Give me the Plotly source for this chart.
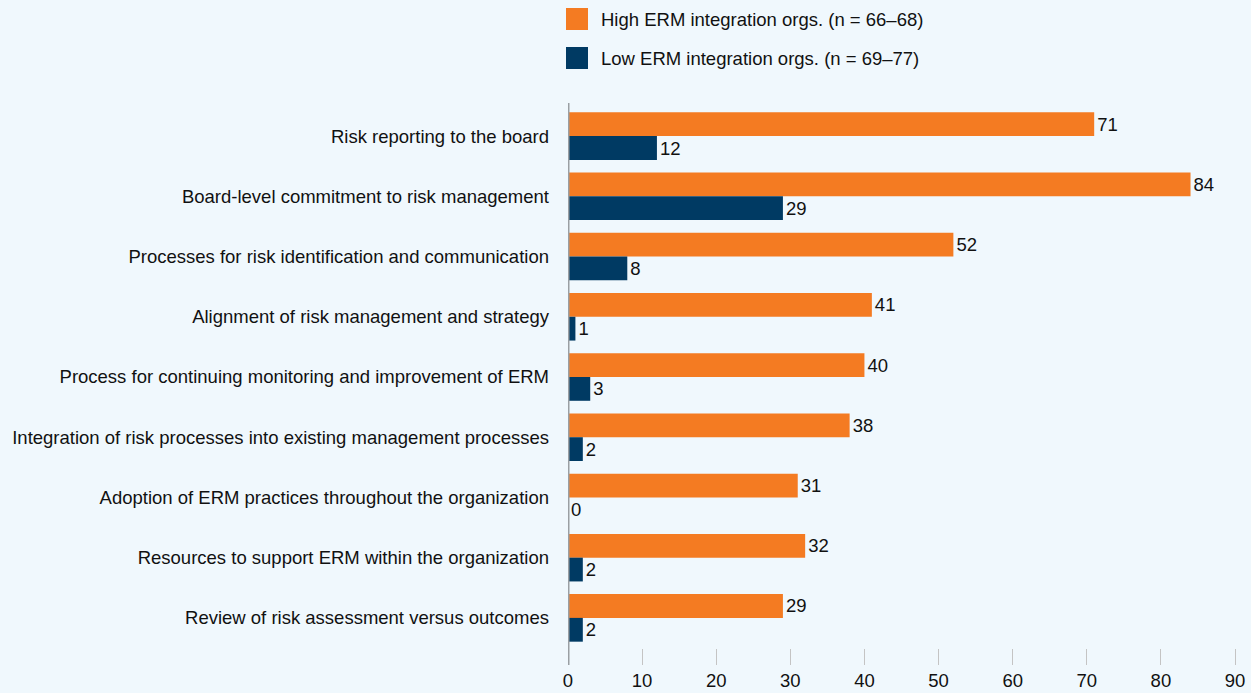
import plotly.graph_objects as go

categories = [
    "Risk reporting to the board",
    "Board-level commitment to risk management",
    "Processes for risk identification and communication",
    "Alignment of risk management and strategy",
    "Process for continuing monitoring and improvement of ERM",
    "Integration of risk processes into existing management processes",
    "Adoption of ERM practices throughout the organization",
    "Resources to support ERM within the organization",
    "Review of risk assessment versus outcomes",
]
high_erm = [71, 84, 52, 41, 40, 38, 31, 32, 29]
low_erm = [12, 29, 8, 1, 3, 2, 0, 2, 2]
series_names = [
    "High ERM integration orgs. (n = 66\u201368)",
    "Low ERM integration orgs. (n = 69\u201377)",
]
x_ticks = [0, 10, 20, 30, 40, 50, 60, 70, 80, 90]

ORANGE = "#f47b22"
NAVY = "#003a63"
BG = "#f0f8fd"
FONT = "Liberation Sans, Arial, sans-serif"
FS = 18.5

fig = go.Figure()
for name, vals, color in [(series_names[0], high_erm, ORANGE),
                          (series_names[1], low_erm, NAVY)]:
    fig.add_trace(go.Bar(
        y=categories,
        x=vals,
        orientation="h",
        name=name,
        marker=dict(color=color, line_width=0),
        text=[str(v) for v in vals],
        textposition="outside",
        textfont=dict(size=FS, color="#111111", family=FONT),
        cliponaxis=False,
        showlegend=False,
    ))

# legend drawn by hand so the swatches can be big squares
for i, (name, color) in enumerate(zip(series_names, [ORANGE, NAVY])):
    y_top = 8 + i * 39
    fig.add_shape(type="rect", xref="paper", yref="paper",
                  x0=-2 / 667, x1=20 / 667,
                  y0=(693 - 45 - y_top) / 542,
                  y1=(693 - 45 - y_top - 22) / 542,
                  fillcolor=color, line_width=0)
    fig.add_annotation(xref="paper", yref="paper",
                       x=31 / 667, y=(693 - 45 - y_top - 11) / 542,
                       text=name, showarrow=False,
                       xanchor="left", yanchor="middle",
                       font=dict(size=FS, color="#111111", family=FONT))

# axis line at zero, running past the plot edges like the original
fig.add_shape(type="line", xref="x", yref="paper",
              x0=0, x1=0, y0=-17 / 542, y1=1 + 3 / 542,
              line=dict(color="#9a9fa3", width=3))

fig.update_layout(
    barmode="group",
    bargap=0.21,
    bargroupgap=0,
    width=1251,
    height=693,
    margin=dict(l=568, r=16, t=106, b=45),
    paper_bgcolor=BG,
    plot_bgcolor=BG,
    font=dict(family=FONT, size=FS, color="#111111"),
)
fig.update_xaxes(
    range=[0, 90],
    tickvals=x_ticks,
    ticks="outside",
    ticklen=16,
    tickcolor="#c4c4c4",
    tickwidth=1,
    showgrid=False,
    zeroline=False,
    showline=False,
    automargin=False,
    ticklabelstandoff=0,
    tickfont=dict(size=FS),
)
fig.update_yaxes(
    autorange="reversed",
    showgrid=False,
    zeroline=False,
    showline=False,
    automargin=False,
    ticks="",
    ticklabelstandoff=18,
    tickfont=dict(size=FS),
)

fig.write_html("out.html", config={"displayModeBar": False},
               post_script="document.body.style.margin='0';")
